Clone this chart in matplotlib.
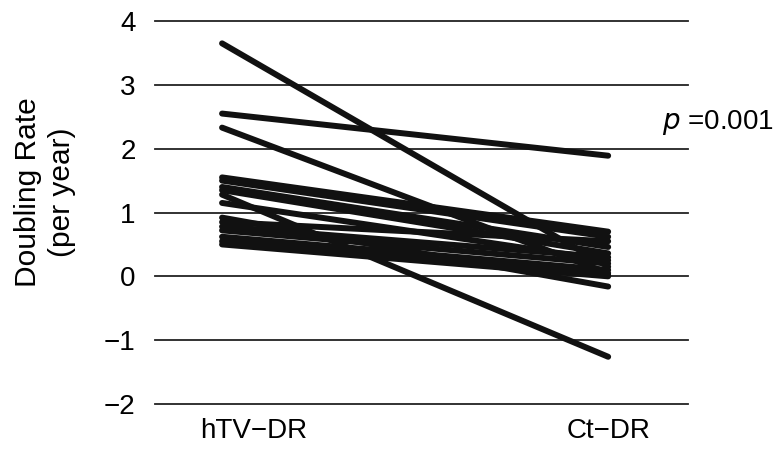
import matplotlib
matplotlib.use("Agg")
import matplotlib.pyplot as plt
from matplotlib.transforms import ScaledTranslation

plt.rcParams['font.family'] = ['Liberation Sans', 'Noto Sans CJK JP', 'DejaVu Sans']

groups = ["hTV\u2212DR", "Ct\u2212DR"]
htv_dr = [3.65, 2.55, 2.33, 1.55, 1.50, 1.40, 1.35, 1.28, 1.15, 0.92, 0.85, 0.78, 0.72, 0.62, 0.55, 0.50]
ct_dr  = [0.15, 1.89, 0.05, 0.70, 0.62, 0.46, 0.36, -1.26, 0.25, -0.16, 0.55, 0.30, 0.20, 0.10, 0.02, 0.00]
yticks = [-2, -1, 0, 1, 2, 3, 4]
ytick_labels = ["\u22122", "\u22121", "0", "1", "2", "3", "4"]

fig = plt.figure(figsize=(7.74, 4.51), dpi=100)
ax = fig.add_axes([0.2003, 0.1042, 0.6887, 0.8492])

for a, b in zip(htv_dr, ct_dr):
    ax.plot([0, 1], [a, b], color="#111111", lw=4.3, solid_capstyle="round", zorder=3)

ax.set_xlim(-0.1736, 1.207)
ax.set_ylim(-2, 4)
ax.set_yticks(yticks)
ax.set_yticklabels(ytick_labels, fontsize=20)
ax.set_xticks([0, 1])
ax.set_xticklabels(groups, fontsize=20)
ax.tick_params(axis='both', length=0)
ax.tick_params(axis='y', pad=14)
ax.tick_params(axis='x', pad=10)
# first group label sits a little right of its line start in the reference
lbl0 = ax.get_xticklabels()[0]
lbl0.set_transform(lbl0.get_transform() + ScaledTranslation(0.32, 0, fig.dpi_scale_trans))
for s in ax.spines.values():
    s.set_visible(False)
for y in yticks:
    ax.axhline(y, color="#222222", lw=1.3, zorder=1, clip_on=False)

fig.text(0.058, 0.574, "Doubling Rate\n(per year)", rotation=90, ha='center', va='center',
         fontsize=21.5, linespacing=1.25)
ax.text(1.14, 2.41, r"$\it{p}$ =0.001", fontsize=20, ha='left', va='center')

fig.savefig("out.png", dpi=100)
